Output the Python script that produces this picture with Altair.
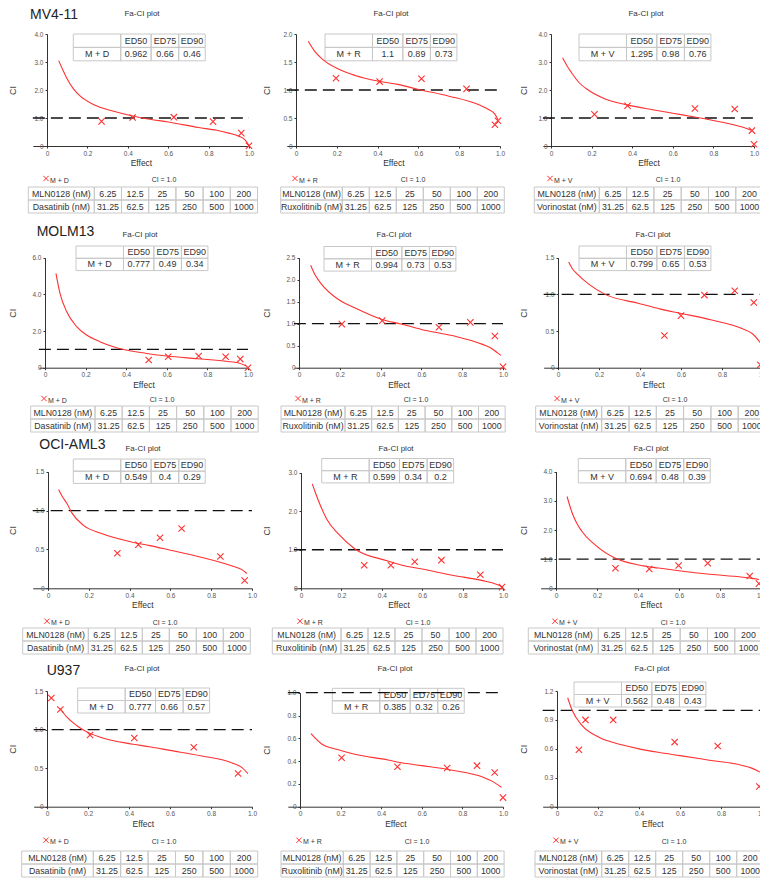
import altair as alt
import pandas as pd

# ============================ data ============================
cell_lines = ["MV4-11", "MOLM13", "OCI-AML3", "U937"]
combo_names = ["M + D", "M + R", "M + V"]
partner_labels = ["Dasatinib (nM)", "Ruxolitinib (nM)", "Vorinostat (nM)"]
mln_label = "MLN0128 (nM)"
mln_doses = ["6.25", "12.5", "25", "50", "100", "200"]
partner_doses = ["31.25", "62.5", "125", "250", "500", "1000"]
ed_headers = ["ED50", "ED75", "ED90"]
effect_ticks = [0, 0.2, 0.4, 0.6, 0.8, 1.0]
ci_reference = 1.0
ci_ref_label = "CI = 1.0"
panel_title = "Fa-CI plot"

# ---- MV4-11 ----
mv4_d_ed = ["0.962", "0.66", "0.46"]
mv4_d_ticks = [0, 1, 2, 3, 4]
mv4_d_curve_fa = [0.058, 0.08, 0.10, 0.13, 0.165, 0.23, 0.33, 0.43, 0.50, 0.60, 0.75, 0.84, 0.90, 0.95, 0.98, 1.0]
mv4_d_curve_ci = [3.05, 2.69, 2.39, 2.05, 1.78, 1.48, 1.24, 1.06, 0.962, 0.86, 0.66, 0.56, 0.46, 0.35, 0.22, 0.02]
mv4_d_pts_fa = [0.27, 0.424, 0.628, 0.822, 0.962, 1.0]
mv4_d_pts_ci = [0.88, 1.02, 1.03, 0.87, 0.46, 0.01]

mv4_r_ed = ["1.1", "0.89", "0.73"]
mv4_r_ticks = [0, 0.5, 1.0, 1.5, 2.0]
mv4_r_curve_fa = [0.06, 0.09, 0.126, 0.21, 0.29, 0.40, 0.50, 0.60, 0.75, 0.90, 0.94, 0.975, 0.99]
mv4_r_curve_ci = [1.87, 1.70, 1.56, 1.37, 1.26, 1.16, 1.10, 1.01, 0.89, 0.73, 0.66, 0.57, 0.47]
mv4_r_pts_fa = [0.196, 0.41, 0.615, 0.836, 0.975, 0.99]
mv4_r_pts_ci = [1.21, 1.15, 1.20, 1.02, 0.38, 0.45]

mv4_v_ed = ["1.295", "0.98", "0.76"]
mv4_v_ticks = [0, 1, 2, 3, 4]
mv4_v_curve_fa = [0.057, 0.08, 0.103, 0.14, 0.185, 0.267, 0.38, 0.50, 0.60, 0.72, 0.75, 0.90, 0.95, 0.99]
mv4_v_curve_ci = [3.15, 2.85, 2.60, 2.25, 1.99, 1.68, 1.46, 1.295, 1.17, 1.02, 0.98, 0.76, 0.66, 0.55]
mv4_v_pts_fa = [0.214, 0.377, 0.709, 0.905, 0.99, 1.0]
mv4_v_pts_ci = [1.13, 1.44, 1.34, 1.32, 0.55, 0.06]

# ---- MOLM13 ----
mol_d_ed = ["0.777", "0.49", "0.34"]
mol_d_ticks = [0, 2, 4, 6]
mol_d_curve_fa = [0.054, 0.074, 0.107, 0.156, 0.205, 0.27, 0.352, 0.50, 0.60, 0.75, 0.90, 0.95, 0.99]
mol_d_curve_ci = [5.15, 4.05, 3.05, 2.24, 1.78, 1.42, 1.09, 0.777, 0.64, 0.49, 0.34, 0.27, 0.10]
mol_d_pts_fa = [0.511, 0.607, 0.757, 0.89, 0.962, 1.0]
mol_d_pts_ci = [0.42, 0.60, 0.64, 0.60, 0.47, 0.0]

mol_r_ed = ["0.994", "0.73", "0.53"]
mol_r_ticks = [0, 0.5, 1.0, 1.5, 2.0, 2.5]
mol_r_curve_fa = [0.057, 0.08, 0.11, 0.19, 0.273, 0.41, 0.50, 0.60, 0.75, 0.90, 0.95, 0.975, 0.99]
mol_r_curve_ci = [2.33, 2.10, 1.90, 1.56, 1.36, 1.09, 0.994, 0.87, 0.73, 0.53, 0.42, 0.33, 0.28]
mol_r_pts_fa = [0.21, 0.408, 0.686, 0.84, 0.96, 1.0]
mol_r_pts_ci = [0.99, 1.07, 0.92, 1.03, 0.72, 0.02]

mol_v_ed = ["0.799", "0.65", "0.53"]
mol_v_ticks = [0, 0.5, 1.0, 1.5]
mol_v_curve_fa = [0.052, 0.07, 0.093, 0.15, 0.23, 0.39, 0.50, 0.60, 0.75, 0.90, 0.95, 0.987]
mol_v_curve_ci = [1.44, 1.35, 1.28, 1.14, 1.0, 0.88, 0.799, 0.74, 0.65, 0.53, 0.46, 0.34]
mol_v_pts_fa = [0.519, 0.60, 0.714, 0.862, 0.955, 0.987]
mol_v_pts_ci = [0.44, 0.71, 0.99, 1.05, 0.89, 0.04]

# ---- OCI-AML3 ----
oci_d_ed = ["0.549", "0.4", "0.29"]
oci_d_ticks = [0, 0.5, 1.0, 1.5]
oci_d_curve_fa = [0.052, 0.07, 0.093, 0.117, 0.174, 0.256, 0.419, 0.50, 0.60, 0.75, 0.90, 0.95, 0.975]
oci_d_curve_ci = [1.27, 1.18, 1.09, 0.97, 0.81, 0.71, 0.59, 0.549, 0.49, 0.40, 0.29, 0.24, 0.19]
oci_d_pts_fa = [0.34, 0.443, 0.549, 0.655, 0.845, 0.964]
oci_d_pts_ci = [0.45, 0.56, 0.65, 0.77, 0.41, 0.10]

oci_r_ed = ["0.599", "0.34", "0.2"]
oci_r_ticks = [0, 1, 2, 3]
oci_r_curve_fa = [0.056, 0.07, 0.086, 0.127, 0.185, 0.267, 0.43, 0.50, 0.60, 0.75, 0.90, 0.95, 1.0]
oci_r_curve_ci = [2.71, 2.50, 2.28, 1.80, 1.41, 1.02, 0.71, 0.599, 0.50, 0.34, 0.20, 0.14, 0.03]
oci_r_pts_fa = [0.313, 0.445, 0.563, 0.695, 0.888, 0.995]
oci_r_pts_ci = [0.60, 0.60, 0.69, 0.73, 0.35, 0.03]

oci_v_ed = ["0.694", "0.48", "0.39"]
oci_v_ticks = [0, 1, 2, 3, 4]
oci_v_curve_fa = [0.054, 0.078, 0.10, 0.127, 0.192, 0.29, 0.403, 0.50, 0.60, 0.75, 0.90, 0.95, 0.99]
oci_v_curve_ci = [3.15, 2.60, 2.25, 1.95, 1.48, 1.03, 0.80, 0.694, 0.60, 0.48, 0.39, 0.35, 0.30]
oci_v_pts_fa = [0.29, 0.455, 0.598, 0.74, 0.945, 0.99]
oci_v_pts_ci = [0.69, 0.66, 0.78, 0.86, 0.42, 0.16]

# ---- U937 ----
u9_d_ed = ["0.777", "0.66", "0.57"]
u9_d_ticks = [0, 0.5, 1.0, 1.5]
u9_d_curve_fa = [0.065, 0.097, 0.146, 0.194, 0.26, 0.42, 0.50, 0.60, 0.75, 0.90, 0.95, 0.98]
u9_d_curve_ci = [1.27, 1.16, 1.05, 0.97, 0.90, 0.81, 0.777, 0.73, 0.66, 0.57, 0.51, 0.43]
u9_d_pts_fa = [0.021, 0.065, 0.21, 0.426, 0.716, 0.932]
u9_d_pts_ci = [1.41, 1.26, 0.93, 0.89, 0.77, 0.43]

u9_r_ed = ["0.385", "0.32", "0.26"]
u9_r_ticks = [0, 0.2, 0.4, 0.6, 0.8, 1.0]
u9_r_curve_fa = [0.054, 0.107, 0.189, 0.27, 0.434, 0.50, 0.60, 0.75, 0.90, 0.95, 0.992]
u9_r_curve_ci = [0.64, 0.55, 0.50, 0.46, 0.41, 0.385, 0.36, 0.32, 0.26, 0.22, 0.17]
u9_r_pts_fa = [0.205, 0.48, 0.725, 0.872, 0.959, 1.0]
u9_r_pts_ci = [0.43, 0.35, 0.34, 0.36, 0.30, 0.08]

u9_v_ed = ["0.562", "0.48", "0.43"]
u9_v_ticks = [0, 0.3, 0.6, 0.9, 1.2]
u9_v_curve_fa = [0.052, 0.074, 0.123, 0.205, 0.32, 0.40, 0.50, 0.60, 0.75, 0.90, 0.95, 0.99]
u9_v_curve_ci = [1.13, 1.0, 0.84, 0.72, 0.64, 0.60, 0.562, 0.53, 0.48, 0.43, 0.40, 0.36]
u9_v_pts_fa = [0.107, 0.139, 0.274, 0.574, 0.784, 0.987]
u9_v_pts_ci = [0.59, 0.90, 0.90, 0.67, 0.63, 0.21]

PANEL_DATA = [
    [(mv4_d_curve_fa, mv4_d_curve_ci, mv4_d_pts_fa, mv4_d_pts_ci, mv4_d_ed, mv4_d_ticks),
     (mv4_r_curve_fa, mv4_r_curve_ci, mv4_r_pts_fa, mv4_r_pts_ci, mv4_r_ed, mv4_r_ticks),
     (mv4_v_curve_fa, mv4_v_curve_ci, mv4_v_pts_fa, mv4_v_pts_ci, mv4_v_ed, mv4_v_ticks)],
    [(mol_d_curve_fa, mol_d_curve_ci, mol_d_pts_fa, mol_d_pts_ci, mol_d_ed, mol_d_ticks),
     (mol_r_curve_fa, mol_r_curve_ci, mol_r_pts_fa, mol_r_pts_ci, mol_r_ed, mol_r_ticks),
     (mol_v_curve_fa, mol_v_curve_ci, mol_v_pts_fa, mol_v_pts_ci, mol_v_ed, mol_v_ticks)],
    [(oci_d_curve_fa, oci_d_curve_ci, oci_d_pts_fa, oci_d_pts_ci, oci_d_ed, oci_d_ticks),
     (oci_r_curve_fa, oci_r_curve_ci, oci_r_pts_fa, oci_r_pts_ci, oci_r_ed, oci_r_ticks),
     (oci_v_curve_fa, oci_v_curve_ci, oci_v_pts_fa, oci_v_pts_ci, oci_v_ed, oci_v_ticks)],
    [(u9_d_curve_fa, u9_d_curve_ci, u9_d_pts_fa, u9_d_pts_ci, u9_d_ed, u9_d_ticks),
     (u9_r_curve_fa, u9_r_curve_ci, u9_r_pts_fa, u9_r_pts_ci, u9_r_ed, u9_r_ticks),
     (u9_v_curve_fa, u9_v_curve_ci, u9_v_pts_fa, u9_v_pts_ci, u9_v_ed, u9_v_ticks)],
]

# ============================ layout ============================
W, H = 760, 878
FONT = "Liberation Sans, Arial, sans-serif"
NARROW = "Liberation Sans Narrow, Arial Narrow, Liberation Sans, sans-serif"
RED = "#ff3030"
TXT = "#333333"
BORDER = "#c8c8c8"
XPATH = "M-1,-1L1,1M-1,1L1,-1"
LABEL_EXPR = "datum.value == 0 ? '0' : format(datum.value, '.1f')"

ROWS = [
    dict(zero=146.0, top=34.0, legend=180.0, table=187.0, name_y=15.0, fa_y=14.0, inset_rh=13.4),
    dict(zero=367.7, top=257.7, legend=400.0, table=406.0, name_y=232.0, fa_y=235.0, inset_rh=12.3),
    dict(zero=588.3, top=471.7, legend=622.7, table=628.0, name_y=445.0, fa_y=449.0, inset_rh=12.2),
    dict(zero=806.7, top=691.0, legend=841.7, table=851.0, name_y=670.7, fa_y=669.0, inset_rh=12.5),
]
TOP_OVERRIDE = {(2, 1): 472.7, (3, 1): 692.7}
NAME_X = [30.0, 36.7, 39.3, 46.7]
CI_TITLE_X = [12.0, 266.5, 523.0]
PANEL_X = [  # x px of effect 0, x px of effect 1, left domain extension
    [(47, 249, -0.07), (296, 500, -0.045), (551, 754, -0.04)],
    [(45, 248, -0.03), (299, 503, -0.025), (558, 763, -0.07)],
    [(48, 252, -0.075), (301, 503, -0.035), (556, 761, -0.075)],
    [(47, 252, -0.065), (300, 503, -0.06), (557, 762, -0.07)],
]
INSET_POS = [
    [(73.3, 34.0), (325.0, 34.0), (579.0, 34.0)],
    [(76.0, 246.0), (324.0, 246.5), (579.0, 246.0)],
    [(73.3, 459.0), (321.7, 458.5), (578.3, 458.5)],
    [(77.7, 688.0), (332.3, 688.3), (574.0, 682.0)],
]
INSET_UNITS = [1.72, 1.1, 1.0, 0.96]
INSET_UNIT_PX = 27.6
TABLE_POS = [  # left, label column width, value column width
    [(28.3, 66.0, 27.2), (280.7, 61.6, 27.0), (534.3, 65.0, 27.3)],
    [(30.7, 64.3, 27.2), (281.0, 64.0, 26.7), (535.7, 66.0, 27.3)],
    [(22.7, 65.6, 27.0), (272.3, 68.7, 27.0), (528.3, 70.0, 27.3)],
    [(21.7, 71.6, 27.4), (281.0, 62.3, 26.8), (535.0, 66.7, 27.0)],
]
TABLE_RH = 13.0


def text_layer(txt, x, y, size, align="center", color=TXT, font=FONT):
    return alt.Chart(pd.DataFrame({"t": [txt]})).mark_text(
        align=align, baseline="middle", fontSize=size, font=font, color=color
    ).encode(text="t:N", x=alt.value(x), y=alt.value(y))


def table_layers(rows, col_units, left, top, unit_px, row_px, size):
    edges = [0.0]
    for u in col_units:
        edges.append(edges[-1] + u)
    recs = []
    for i, row in enumerate(rows):
        for j, t in enumerate(row):
            recs.append({"c0": edges[j], "c1": edges[j + 1], "cm": (edges[j] + edges[j + 1]) / 2,
                         "r0": i, "r1": i + 1, "rm": i + 0.5, "t": t})
    df = pd.DataFrame(recs)
    xs = alt.Scale(domain=[0, edges[-1]], range=[left, left + edges[-1] * unit_px], nice=False, zero=False)
    ys = alt.Scale(domain=[0, len(rows)], range=[top, top + len(rows) * row_px], nice=False, zero=False)
    rect = alt.Chart(df).mark_rect(fillOpacity=0, stroke=BORDER, strokeWidth=1).encode(
        x=alt.X("c0:Q", scale=xs, axis=None), x2="c1:Q",
        y=alt.Y("r0:Q", scale=ys, axis=None), y2="r1:Q")
    txt = alt.Chart(df).mark_text(fontSize=size, font=FONT, color=TXT).encode(
        x=alt.X("cm:Q", scale=xs, axis=None), y=alt.Y("rm:Q", scale=ys, axis=None), text="t:N")
    return [rect, txt]


layers = []
for r in range(4):
    ry = ROWS[r]
    layers.append(text_layer(cell_lines[r], NAME_X[r], ry["name_y"], 14, align="left", color="#222222", font=NARROW))
    for c in range(3):
        curve_fa, curve_ci, pts_fa, pts_ci, ed_vals, yticks = PANEL_DATA[r][c]
        x0, x1, xmin = PANEL_X[r][c]
        yz = ry["zero"]
        yt = TOP_OVERRIDE.get((r, c), ry["top"])
        ymax = yticks[-1]
        xl = x0 + xmin * (x1 - x0)
        xs = alt.Scale(domain=[xmin, 1.0], range=[xl, x1], nice=False, zero=False)
        ys = alt.Scale(domain=[0, ymax], range=[yz, yt], nice=False, zero=False)

        # inset ED table
        il, it = INSET_POS[r][c]
        layers += table_layers([[""] + ed_headers, [combo_names[c]] + ed_vals], INSET_UNITS,
                               il, it, INSET_UNIT_PX, ry["inset_rh"], 9)

        x_axis = alt.Axis(orient="bottom", offset=yz - H, values=effect_ticks, labelExpr=LABEL_EXPR,
                          grid=False, tickSize=2, labelPadding=2, labelFlush=False, labelOverlap=False,
                          domainColor="#333333", tickColor="#333333", labelColor="#555555",
                          labelFontSize=6.5, labelFont=FONT, title="Effect", titleFont=FONT,
                          titleFontSize=8.5, titleFontWeight="normal", titleColor=TXT,
                          titleY=16.5, titleBaseline="middle")
        y_axis = alt.Axis(orient="left", offset=-x0, values=yticks, labelExpr=LABEL_EXPR,
                          grid=False, tickSize=2, labelPadding=2, labelOverlap=False,
                          domainColor="#333333", tickColor="#333333", labelColor="#555555",
                          labelFontSize=6.5, labelFont=FONT, title="CI", titleFont=FONT,
                          titleFontSize=9, titleFontWeight="normal", titleColor=TXT,
                          titleAngle=270, titleX=CI_TITLE_X[c] - x0, titleY=(yz + yt) / 2,
                          titleAlign="center", titleBaseline="middle")

        rule_df = pd.DataFrame({"fa": [xmin], "fa_end": [1.0], "ci": [ci_reference]})
        layers.append(alt.Chart(rule_df).mark_rule(color="#111111", strokeDash=[12, 6], strokeWidth=1.3).encode(
            x=alt.X("fa:Q", scale=xs, axis=None), x2="fa_end:Q", y=alt.Y("ci:Q", scale=ys, axis=None)))

        curve_df = pd.DataFrame({"fa": curve_fa, "ci": curve_ci})
        layers.append(alt.Chart(curve_df).mark_line(color=RED, strokeWidth=1.1, interpolate="monotone").encode(
            x=alt.X("fa:Q", scale=xs, axis=x_axis), y=alt.Y("ci:Q", scale=ys, axis=y_axis)))

        pts_df = pd.DataFrame({"fa": pts_fa, "ci": pts_ci})
        layers.append(alt.Chart(pts_df).mark_point(shape=XPATH, size=40, filled=False, color=RED,
                                                    strokeWidth=1.1, opacity=1).encode(
            x=alt.X("fa:Q", scale=xs, axis=None), y=alt.Y("ci:Q", scale=ys, axis=None)))

        # titles & legend
        layers.append(text_layer(panel_title, x0 + 95, ry["fa_y"], 8))
        layers.append(alt.Chart(pd.DataFrame({"k": [combo_names[c]]})).mark_point(
            shape=XPATH, size=28, filled=False, color=RED, strokeWidth=1, opacity=1).encode(
            x=alt.value(x0 - 1), y=alt.value(ry["legend"] - 1.5)))
        layers.append(text_layer(combo_names[c], x0 + 3, ry["legend"] + 0.5, 7, align="left"))
        layers.append(text_layer(ci_ref_label, x0 + 117, ry["legend"], 7))

        # dose table
        tl, lw, vw = TABLE_POS[r][c]
        layers += table_layers([[mln_label] + mln_doses, [partner_labels[c]] + partner_doses],
                               [lw / vw] + [1.0] * 6, tl, ry["table"], vw, TABLE_RH, 8.8)

chart = alt.layer(*layers).resolve_scale(x="independent", y="independent").properties(
    width=W, height=H, autosize=alt.AutoSizeParams(type="none"), padding=0,
    background="white").configure_view(strokeWidth=0)

chart.save("out.html", embed_options={"renderer": "svg", "actions": False})
